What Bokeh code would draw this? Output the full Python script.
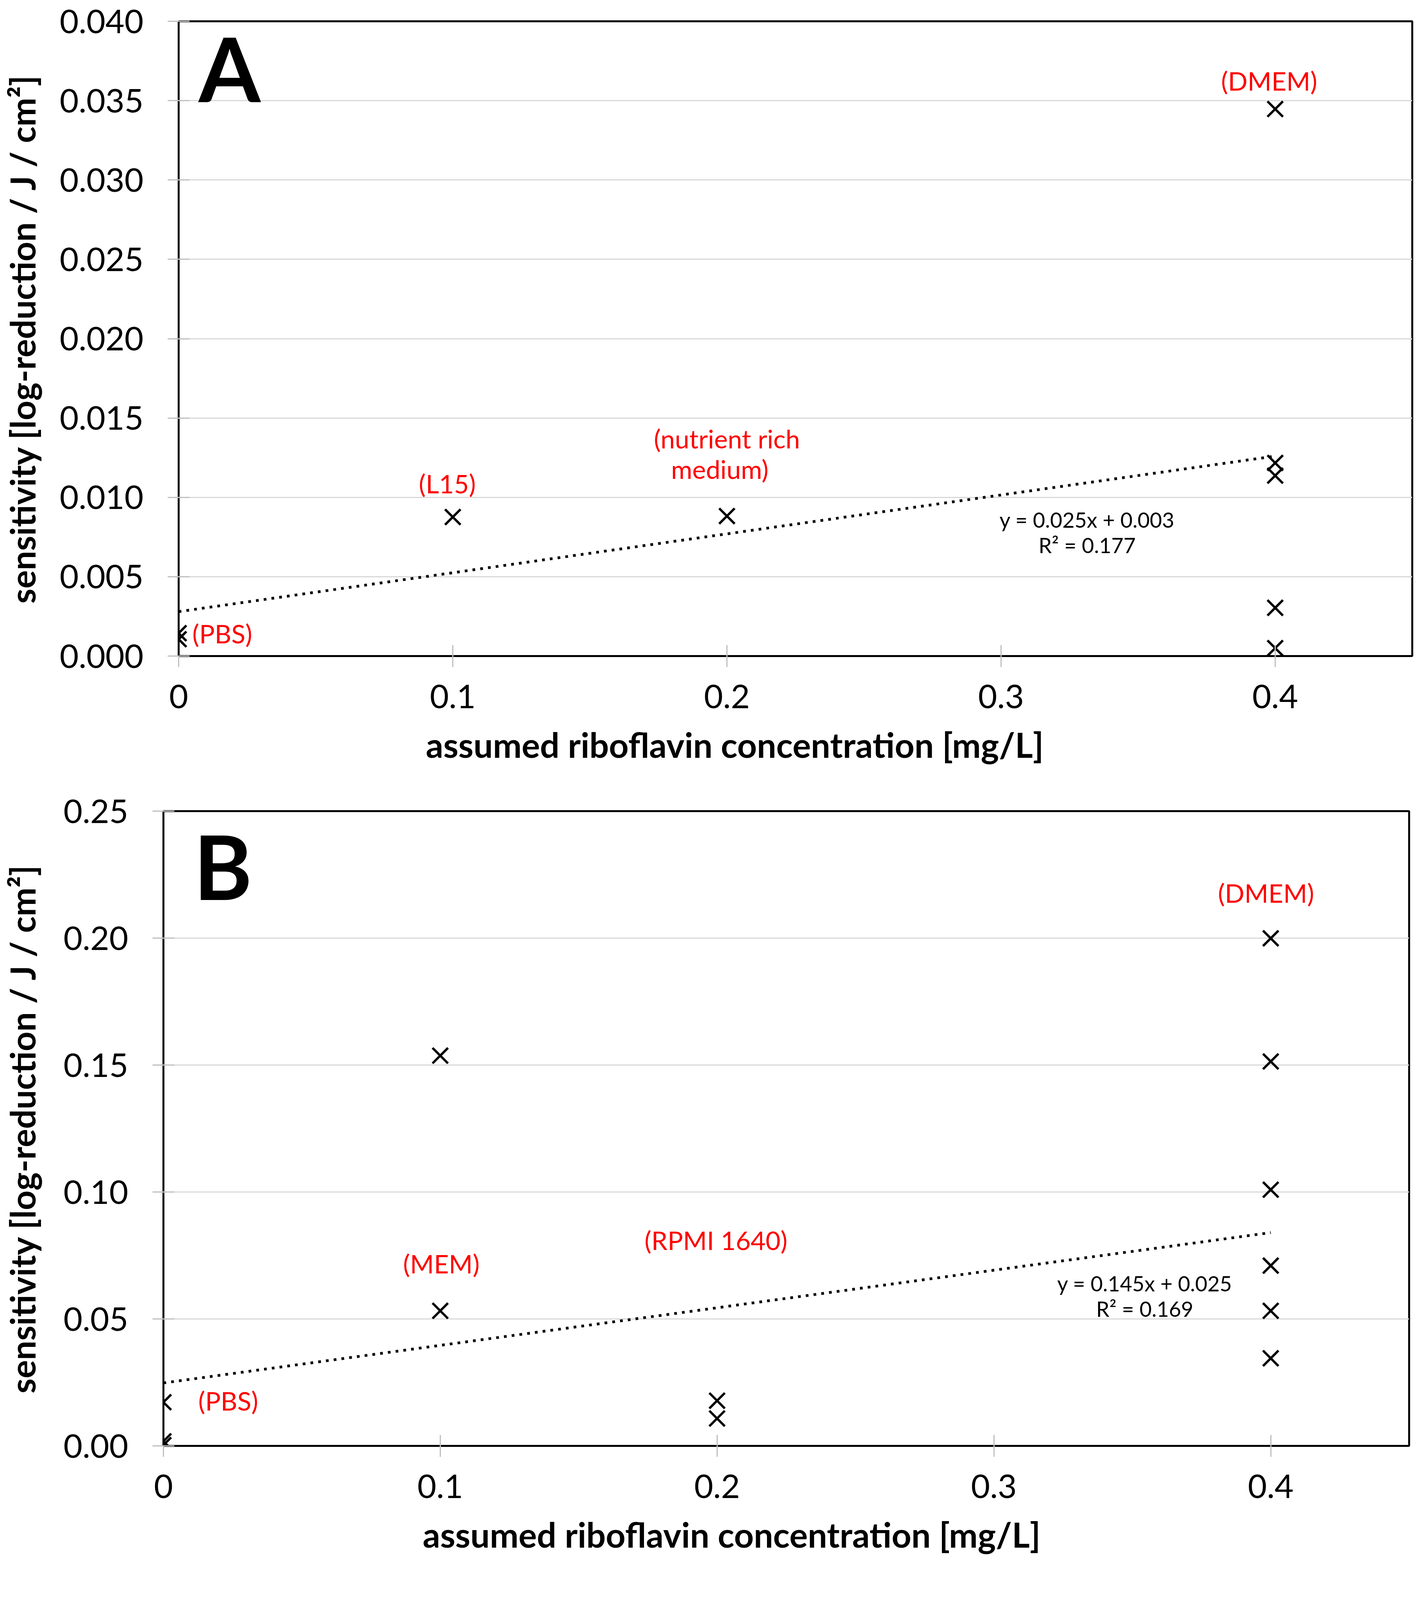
import numpy as np
from bokeh.embed import file_html
from bokeh.layouts import column
from bokeh.models import ColumnDataSource, FixedTicker, Label, NumeralTickFormatter, Range1d, Title
from bokeh.plotting import figure
from bokeh.resources import INLINE

FONT = "Lato"

# panel A
conc_a = [0, 0, 0.1, 0.2, 0.4, 0.4, 0.4, 0.4, 0.4]
sens_a = [0.00144, 0.00106, 0.00876, 0.00882, 0.03447, 0.01217, 0.01137, 0.00304, 0.0005]
trend_a = [0.0245, 0.0028]   # slope, intercept of the dotted trend line
eq_a = ["y = 0.025x + 0.003", "R² = 0.177"]
yticks_a = [0.0, 0.005, 0.010, 0.015, 0.020, 0.025, 0.030, 0.035, 0.040]

# panel B
conc_b = [0, 0, 0, 0.1, 0.1, 0.2, 0.2, 0.4, 0.4, 0.4, 0.4, 0.4, 0.4]
sens_b = [0.0172, 0.0018, 0.0003, 0.1537, 0.0532, 0.0178, 0.0108,
          0.1999, 0.1514, 0.1009, 0.0710, 0.0532, 0.0345]
trend_b = [0.148, 0.0248]
eq_b = ["y = 0.145x + 0.025", "R² = 0.169"]
yticks_b = [0.0, 0.05, 0.10, 0.15, 0.20, 0.25]

xticks = [0, 0.1, 0.2, 0.3, 0.4]
x_title = "assumed riboflavin concentration [mg/L]"
y_title = "sensitivity [log-reduction / J / cm²]"


def make_panel(conc, sens, trend, yticks, yfmt, left, top, bottom, fh, ylab_standoff, title_offset):
    p = figure(frame_width=3613 - 8 - left, frame_height=fh,
               min_border_left=left, min_border_right=23,
               min_border_top=top, min_border_bottom=bottom,
               x_range=Range1d(0, 0.45), y_range=Range1d(0, yticks[-1]),
               toolbar_location=None, output_backend="svg")
    p.frame_align = False
    p.background_fill_color = "white"
    p.border_fill_color = "white"
    p.outline_line_color = "black"
    p.outline_line_width = 5

    p.xgrid.visible = False
    p.ygrid.grid_line_color = "#d9d9d9"
    p.ygrid.grid_line_width = 3

    p.xaxis.ticker = FixedTicker(ticks=xticks)
    p.yaxis.ticker = FixedTicker(ticks=yticks)
    p.xaxis.formatter = NumeralTickFormatter(format="0.[0]")
    p.yaxis.formatter = NumeralTickFormatter(format=yfmt)
    for ax in (p.xaxis, p.yaxis):
        ax.axis_line_color = "black"
        ax.axis_line_width = 3
        ax.major_tick_line_color = "#bfbfbf"
        ax.major_tick_line_width = 3
        ax.major_tick_in = 28
        ax.major_tick_out = 28
        ax.minor_tick_line_color = None
        ax.major_label_text_font = FONT
        ax.major_label_text_font_size = "84px"
        ax.major_label_text_color = "black"
    p.xaxis.major_label_standoff = 45
    p.yaxis.major_label_standoff = 62

    p.yaxis.axis_label = y_title
    p.yaxis.axis_label_text_font = FONT
    p.yaxis.axis_label_text_font_size = "88px"
    p.yaxis.axis_label_text_font_style = "bold"
    p.yaxis.axis_label_text_color = "black"
    p.yaxis.axis_label_standoff = ylab_standoff

    # the x title sits left of the frame centre in the original, so use a Title below
    p.add_layout(Title(text=x_title, align="left", offset=title_offset, standoff=70,
                       text_font=FONT, text_font_size="88px", text_font_style="bold",
                       text_color="black"), "below")

    src = ColumnDataSource(dict(x=conc, y=sens))
    p.scatter("x", "y", source=src, marker="x", size=56, line_width=6, line_color="black")

    tx = np.array([0, max(conc)])
    p.line(tx, trend[0] * tx + trend[1], line_color="black", line_width=7, line_dash="7 13")
    return p


def add_text(p, x, y, text, size, color="black", style="normal", align="center", baseline="middle"):
    p.add_layout(Label(x=x, y=y, text=text, text_font=FONT, text_font_size=size,
                       text_color=color, text_font_style=style,
                       text_align=align, text_baseline=baseline))


pa = make_panel(conc_a, sens_a, trend_a, yticks_a, "0.000", 446, 54, 345, 1625, 40, 633)
add_text(pa, 0.0073, 0.03707, "A", "228px", style="bold", align="left", baseline="alphabetic")
add_text(pa, 0.3978, 0.03627, "(DMEM)", "66px", color="#ff0000")
add_text(pa, 0.098, 0.01087, "(L15)", "66px", color="#ff0000")
add_text(pa, 0.200, 0.01370, "(nutrient rich", "66px", color="#ff0000")
add_text(pa, 0.1974, 0.01180, "medium)", "66px", color="#ff0000")
add_text(pa, 0.005, 0.00143, "(PBS)", "66px", color="#ff0000", align="left")
add_text(pa, 0.3314, 0.00860, eq_a[0], "54px")
add_text(pa, 0.3314, 0.00700, eq_a[1], "54px")

pb = make_panel(conc_b, sens_b, trend_b, yticks_b, "0.00", 415, 52, 345, 1625, 50, 664)
add_text(pb, 0.0109, 0.2286, "B", "228px", style="bold", align="left", baseline="alphabetic")
add_text(pb, 0.3983, 0.2178, "(DMEM)", "66px", color="#ff0000")
add_text(pb, 0.1004, 0.0718, "(MEM)", "66px", color="#ff0000")
add_text(pb, 0.1996, 0.0811, "(RPMI 1640)", "66px", color="#ff0000")
add_text(pb, 0.0126, 0.01786, "(PBS)", "66px", color="#ff0000", align="left")
add_text(pb, 0.3545, 0.0640, eq_b[0], "54px")
add_text(pb, 0.3545, 0.0540, eq_b[1], "54px")

layout = column(pa, pb)
open("out.html", "w").write(file_html(layout, INLINE))
